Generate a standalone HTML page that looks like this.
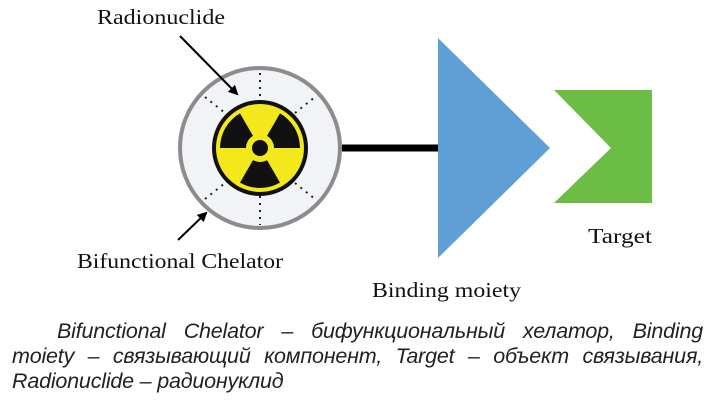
<!DOCTYPE html>
<html><head><meta charset="utf-8"><style>
html,body{margin:0;padding:0;background:#fff;}
body{width:713px;height:404px;position:relative;overflow:hidden;}
svg{position:absolute;left:0;top:0;}
.cap{position:absolute;left:12px;width:691px;font-family:"Liberation Sans",sans-serif;font-style:italic;font-size:21.5px;line-height:25px;color:#222;top:319px;letter-spacing:-0.2px;}
.j{text-align:justify;text-align-last:justify;white-space:nowrap;}
.cap div{height:25px;}
</style></head><body>
<svg width="713" height="404" viewBox="0 0 713 404">
<defs><marker id="ah" markerWidth="10" markerHeight="10" refX="8" refY="5" orient="auto" markerUnits="userSpaceOnUse"><path d="M0,0 L10,5 L0,10 z" fill="#000"/></marker></defs>
<line x1="342" y1="148" x2="440" y2="148" stroke="#000" stroke-width="7"/>
<circle cx="260" cy="148" r="80" fill="#f1f3f6" stroke="#8c8c8c" stroke-width="4"/>
<g stroke="#222" stroke-width="2" stroke-dasharray="2,5">
<line x1="260" y1="73" x2="260" y2="100"/><line x1="260" y1="196" x2="260" y2="225"/>
<line x1="205" y1="97" x2="225" y2="113"/><line x1="295" y1="113" x2="315" y2="97"/>
<line x1="205" y1="199" x2="225" y2="183"/><line x1="295" y1="183" x2="315" y2="199"/>
</g>
<circle cx="260" cy="148" r="46" fill="#f2e81c" stroke="#111" stroke-width="4"/>
<g fill="#111">
<path d="M253,135.9 L240,113.4 A40,40 0 0 0 220,148 L246,148 A14,14 0 0 1 253,135.9 Z"/>
<path d="M274,148 L300,148 A40,40 0 0 0 280,113.4 L267,135.9 A14,14 0 0 1 274,148 Z"/>
<path d="M267,160.1 L280,182.6 A40,40 0 0 1 240,182.6 L253,160.1 A14,14 0 0 0 267,160.1 Z"/>
</g>
<circle cx="260" cy="148" r="8" fill="#111"/>
<line x1="180" y1="36" x2="237" y2="94" stroke="#000" stroke-width="2" marker-end="url(#ah)"/>
<line x1="178" y1="240" x2="206" y2="213" stroke="#000" stroke-width="2" marker-end="url(#ah)"/>
<polygon points="438,38 438,258 550,148" fill="#5f9fd6"/>
<polygon points="554,90 652,90 652,203 554,203 611,148" fill="#6cbd45"/>
<g font-family="Liberation Serif,serif" font-size="21" fill="#111">
<text x="97" y="24" textLength="128" lengthAdjust="spacingAndGlyphs">Radionuclide</text>
<text x="77" y="268" textLength="206" lengthAdjust="spacingAndGlyphs">Bifunctional Chelator</text>
<text x="372" y="297" textLength="149" lengthAdjust="spacingAndGlyphs">Binding moiety</text>
<text x="588" y="243" textLength="64" lengthAdjust="spacingAndGlyphs">Target</text>
</g>
</svg>
<div class="cap">
<div class="j" style="padding-left:45px">Bifunctional Chelator – бифункциональный хелатор, Binding</div>
<div class="j">moiety – связывающий компонент, Target – объект связывания,</div>
<div>Radionuclide – радионуклид</div>
</div>
</body></html>
